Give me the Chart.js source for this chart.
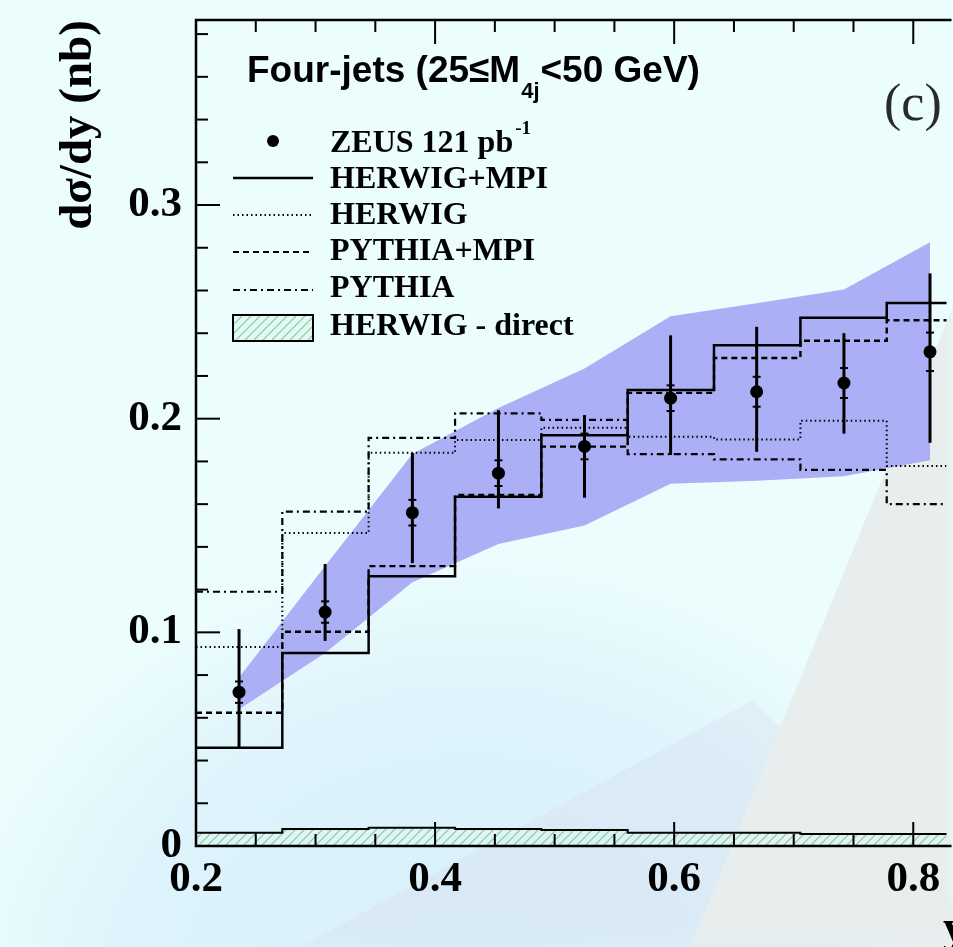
<!DOCTYPE html>
<html>
<head>
<meta charset="utf-8">
<script src="https://cdn.jsdelivr.net/npm/chart.js@4.4.1/dist/chart.umd.min.js"></script>
<style>
  html, body { margin: 0; padding: 0; }
  body { width: 953px; height: 947px; overflow: hidden; position: relative; background: #ebfdfd; }
  .bg { position: absolute; left: 0; top: 0; width: 953px; height: 947px; }
  .hill { background: radial-gradient(ellipse 520px 440px at 470px 1000px, rgba(212,236,250,0.85) 0%, rgba(212,236,250,0.55) 70%, rgba(212,236,250,0) 100%); }
  .pyr { background: rgba(214,222,238,0.35); clip-path: polygon(753px 700px, 1000px 947px, 300px 947px); filter: blur(10px); }
  .wedge { background: #e8eded; clip-path: polygon(960px 290px, 960px 947px, 690px 947px); filter: blur(5px); }
  #c { position: absolute; left: 0; top: 0; }
</style>
</head>
<body>
<div class="bg hill"></div>
<div class="bg pyr"></div>
<div class="bg wedge"></div>
<canvas id="c" width="953" height="947"></canvas>
<script>
// bin edges and centres in y
const edges = [0.2, 0.2722, 0.3444, 0.4167, 0.4889, 0.5611, 0.6333, 0.7056, 0.7778, 0.85];
const centers = [0.236, 0.308, 0.381, 0.453, 0.525, 0.597, 0.669, 0.742, 0.814];

// ZEUS data, total error range and statistical error
const zeus = [0.072, 0.1095, 0.156, 0.1745, 0.187, 0.2096, 0.2126, 0.2167, 0.2313];
const zeusHi = [0.1015, 0.132, 0.184, 0.204, 0.2017, 0.239, 0.243, 0.240, 0.268];
const zeusLo = [0.0463, 0.096, 0.1324, 0.158, 0.163, 0.183, 0.1845, 0.193, 0.1887];
const zeusStat = [0.005, 0.005, 0.006, 0.006, 0.006, 0.006, 0.007, 0.007, 0.009];

// jet energy scale band
const bandLow = [0.064, 0.0903, 0.1235, 0.1413, 0.150, 0.1695, 0.171, 0.173, 0.1806];
const bandHigh = [0.0789, 0.131, 0.1835, 0.205, 0.2235, 0.248, 0.254, 0.2605, 0.2826];

// MC predictions
const herwigMpi = [0.046, 0.0903, 0.1263, 0.1635, 0.1923, 0.2134, 0.2344, 0.2472, 0.2542];
const herwig = [0.0931, 0.1465, 0.184, 0.190, 0.1958, 0.1915, 0.1903, 0.199, 0.1778];
const pythiaMpi = [0.0624, 0.1003, 0.131, 0.1643, 0.1869, 0.2121, 0.2284, 0.2365, 0.2461];
const pythia = [0.119, 0.1565, 0.191, 0.2025, 0.1994, 0.1834, 0.181, 0.176, 0.160];
const herwigDirect = [0.0062, 0.008, 0.0086, 0.008, 0.0075, 0.0062, 0.0062, 0.0056, 0.0056];

// axis ticks
const xMajor = [0.2, 0.4, 0.6, 0.8];
const xMinor = [0.25, 0.3, 0.35, 0.45, 0.5, 0.55, 0.65, 0.7, 0.75];
const yMajor = [0, 0.1, 0.2, 0.3];
const yMinor = [0.02, 0.04, 0.06, 0.08, 0.12, 0.14, 0.16, 0.18, 0.22, 0.24, 0.26, 0.28, 0.32, 0.34, 0.36, 0.38];

const SERIF = '"Liberation Serif", "Times New Roman", serif';
const SANS = '"Liberation Sans", Arial, sans-serif';

const hist = vals => {
  const pts = vals.map((v, i) => ({ x: edges[i], y: v }));
  pts.push({ x: edges[vals.length], y: vals[vals.length - 1] });
  return pts;
};

// diagonal green hatching
const hatch = (() => {
  const c = document.createElement('canvas');
  c.width = 9; c.height = 9;
  const g = c.getContext('2d');
  g.fillStyle = 'rgba(225,246,238,0.6)';
  g.fillRect(0, 0, 9, 9);
  g.strokeStyle = '#7ccba4';
  g.lineWidth = 1.2;
  g.beginPath();
  g.moveTo(-1, 10); g.lineTo(10, -1);
  g.moveTo(-1, 1); g.lineTo(1, -1);
  g.moveTo(8, 10); g.lineTo(10, 8);
  g.stroke();
  return g.createPattern(c, 'repeat');
})();

const DOT = [1.5, 3];
const DASH = [6, 4];
const DASHDOT = [7, 4, 2, 4];

const decor = {
  id: 'decor',
  afterDatasetsDraw(chart) {
    const { ctx, chartArea: a, scales: { x, y } } = chart;
    ctx.save();
    ctx.strokeStyle = '#000';
    // error bars
    ctx.lineWidth = 3;
    zeus.forEach((v, i) => {
      const px = x.getPixelForValue(centers[i]);
      ctx.beginPath();
      ctx.moveTo(px, y.getPixelForValue(zeusLo[i]));
      ctx.lineTo(px, y.getPixelForValue(zeusHi[i]));
      ctx.stroke();
    });
    ctx.lineWidth = 2;
    zeus.forEach((v, i) => {
      const px = x.getPixelForValue(centers[i]);
      [v + zeusStat[i], v - zeusStat[i]].forEach(s => {
        const py = y.getPixelForValue(s);
        ctx.beginPath();
        ctx.moveTo(px - 4, py);
        ctx.lineTo(px + 4, py);
        ctx.stroke();
      });
    });
    // frame
    ctx.lineWidth = 2.5;
    ctx.beginPath();
    ctx.moveTo(a.right + 5, a.top);
    ctx.lineTo(a.left, a.top);
    ctx.lineTo(a.left, a.bottom);
    ctx.lineTo(a.right + 5, a.bottom);
    ctx.stroke();
    // tick marks, pointing inwards
    ctx.lineWidth = 2;
    const xt = (vals, len) => vals.forEach(v => {
      const px = x.getPixelForValue(v);
      ctx.beginPath();
      ctx.moveTo(px, a.bottom); ctx.lineTo(px, a.bottom - len);
      ctx.moveTo(px, a.top); ctx.lineTo(px, a.top + len);
      ctx.stroke();
    });
    const yt = (vals, len) => vals.forEach(v => {
      const py = y.getPixelForValue(v);
      ctx.beginPath();
      ctx.moveTo(a.left, py); ctx.lineTo(a.left + len, py);
      ctx.stroke();
    });
    xt(xMajor, 24); xt(xMinor, 12);
    yt(yMajor, 24); yt(yMinor, 12);
    ctx.restore();
  },
  afterDraw(chart) {
    const { ctx } = chart;
    ctx.save();
    ctx.fillStyle = '#000';
    ctx.textBaseline = 'alphabetic';

    // y axis title
    ctx.save();
    ctx.translate(91, 125);
    ctx.rotate(-Math.PI / 2);
    ctx.textAlign = 'center';
    ctx.font = 'bold 47px ' + SERIF;
    ctx.fillText('d\u03c3/dy (nb)', 0, 0);
    ctx.restore();

    // x axis title, mostly off the page
    ctx.font = 'bold 46px ' + SERIF;
    ctx.fillText('y', 943, 942);

    // header
    ctx.textAlign = 'left';
    ctx.font = 'bold 37px ' + SANS;
    let tx = 247;
    const part1 = 'Four-jets (25\u2264M';
    ctx.fillText(part1, tx, 82);
    tx += ctx.measureText(part1).width + 1;
    ctx.font = 'bold 22px ' + SANS;
    ctx.fillText('4j', tx, 98);
    tx += ctx.measureText('4j').width + 1;
    ctx.font = 'bold 37px ' + SANS;
    ctx.fillText('<50 GeV)', tx, 82);

    // panel label
    ctx.font = '52px ' + SERIF;
    ctx.fillStyle = '#2b2b2b';
    ctx.fillText('(c)', 884, 120);
    ctx.fillStyle = '#000';

    // legend
    const lx = 330, sx0 = 233, sx1 = 313;
    ctx.font = 'bold 32px ' + SERIF;
    ctx.fillText('ZEUS 121 pb', lx, 152);
    const w = ctx.measureText('ZEUS 121 pb').width;
    ctx.font = 'bold 19px ' + SERIF;
    ctx.fillText('-1', lx + w + 2, 134);
    ctx.font = 'bold 32px ' + SERIF;
    ctx.fillText('HERWIG+MPI', lx, 188);
    ctx.fillText('HERWIG', lx, 224);
    ctx.fillText('PYTHIA+MPI', lx, 260);
    ctx.fillText('PYTHIA', lx, 297);
    ctx.fillText('HERWIG - direct', lx, 335);

    ctx.beginPath();
    ctx.arc(273, 141, 6, 0, Math.PI * 2);
    ctx.fill();
    ctx.strokeStyle = '#000';
    const seg = (yy, dash, lw) => {
      ctx.setLineDash(dash);
      ctx.lineWidth = lw;
      ctx.beginPath();
      ctx.moveTo(sx0, yy); ctx.lineTo(sx1, yy);
      ctx.stroke();
    };
    seg(178, [], 2.5);
    seg(215, DOT, 2);
    seg(252, DASH, 2.2);
    seg(290, DASHDOT, 2.2);
    ctx.setLineDash([]);
    ctx.fillStyle = hatch;
    ctx.fillRect(sx0, 315, sx1 - sx0, 26);
    ctx.lineWidth = 2;
    ctx.strokeRect(sx0, 315, sx1 - sx0, 26);
    ctx.restore();
  }
};

const line = (vals, dash, width, order) => ({
  data: hist(vals),
  stepped: 'before',
  borderColor: '#000',
  borderWidth: width,
  borderDash: dash,
  pointRadius: 0,
  fill: false,
  order: order
});

new Chart(document.getElementById('c'), {
  type: 'line',
  data: {
    datasets: [
      {
        data: centers.map((c, i) => ({ x: c, y: bandLow[i] })),
        borderWidth: 0, pointRadius: 0, fill: false, order: 20
      },
      {
        data: centers.map((c, i) => ({ x: c, y: bandHigh[i] })),
        borderWidth: 0, pointRadius: 0,
        fill: '-1', backgroundColor: 'rgb(171,175,246)', order: 19
      },
      {
        data: hist(herwigDirect), stepped: 'before',
        borderColor: '#000', borderWidth: 2, pointRadius: 0,
        fill: 'origin', backgroundColor: hatch, order: 18
      },
      line(pythia, DASHDOT, 2.2, 6),
      line(herwig, DOT, 2, 5),
      line(pythiaMpi, DASH, 2.4, 4),
      line(herwigMpi, [], 2.5, 3),
      {
        data: centers.map((c, i) => ({ x: c, y: zeus[i] })),
        showLine: false, pointRadius: 6.5,
        pointBackgroundColor: '#000', pointBorderWidth: 0, order: 1
      }
    ]
  },
  options: {
    responsive: false,
    animation: false,
    devicePixelRatio: 1,
    layout: { padding: { top: 20, right: 0, left: 0, bottom: 0 } },
    plugins: { legend: { display: false }, tooltip: { enabled: false } },
    scales: {
      x: {
        type: 'linear', min: 0.2, max: 0.8278,
        afterFit: s => { s.height = 101; s.paddingLeft = 0; s.paddingRight = 0; },
        grid: { display: false },
        border: { display: false },
        ticks: {
          stepSize: 0.2, includeBounds: false, maxRotation: 0, autoSkip: false,
          padding: 0, color: '#000',
          font: { family: SERIF, size: 43, weight: 'bold' },
          callback: v => v.toFixed(1)
        }
      },
      y: {
        type: 'linear', min: 0, max: 0.3866,
        afterFit: s => { s.width = 196; s.paddingTop = 0; s.paddingBottom = 0; },
        grid: { display: false },
        border: { display: false },
        ticks: {
          stepSize: 0.1, includeBounds: false, padding: 6, color: '#000',
          font: { family: SERIF, size: 43, weight: 'bold' },
          callback: v => v === 0 ? '0' : v.toFixed(1)
        }
      }
    }
  },
  plugins: [decor]
});
</script>
</body>
</html>
